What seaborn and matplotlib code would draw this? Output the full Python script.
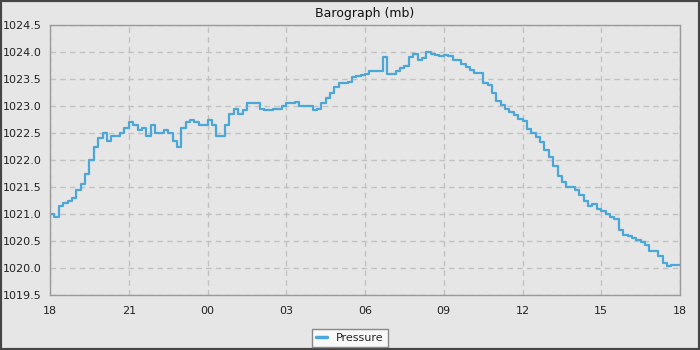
"""Barograph chart"""
import matplotlib

matplotlib.use("Agg")
import matplotlib.dates as mdates
import matplotlib.pyplot as plt
import pandas as pd
import seaborn as sns
from matplotlib.patches import Rectangle
from matplotlib.ticker import FormatStrFormatter, MultipleLocator

# readings every 10 minutes, 18:00 to 18:00 next day
START = "2024-01-01 18:00"
PRESSURE = [
    1021.00, 1020.95, 1021.15, 1021.20, 1021.25, 1021.30,
    1021.45, 1021.55, 1021.75, 1022.00, 1022.25, 1022.40,
    1022.50, 1022.35, 1022.45, 1022.45, 1022.50, 1022.60,
    1022.70, 1022.65, 1022.55, 1022.60, 1022.45, 1022.65,
    1022.50, 1022.50, 1022.55, 1022.50, 1022.35, 1022.25,
    1022.60, 1022.70, 1022.75, 1022.70, 1022.65, 1022.65,
    1022.75, 1022.65, 1022.45, 1022.45, 1022.65, 1022.85,
    1022.95, 1022.85, 1022.93, 1023.05, 1023.05, 1023.05,
    1022.95, 1022.93, 1022.93, 1022.95, 1022.95, 1023.00,
    1023.05, 1023.05, 1023.07, 1023.00, 1023.00, 1023.00,
    1022.93, 1022.95, 1023.05, 1023.15, 1023.25, 1023.35,
    1023.43, 1023.43, 1023.45, 1023.53, 1023.55, 1023.58,
    1023.60, 1023.65, 1023.65, 1023.65, 1023.90, 1023.60,
    1023.60, 1023.65, 1023.70, 1023.75, 1023.90, 1023.97,
    1023.85, 1023.88, 1024.00, 1023.97, 1023.95, 1023.93,
    1023.95, 1023.93, 1023.85, 1023.85, 1023.78, 1023.72,
    1023.66, 1023.61, 1023.61, 1023.43, 1023.38, 1023.25,
    1023.10, 1023.02, 1022.95, 1022.88, 1022.83, 1022.76,
    1022.72, 1022.57, 1022.50, 1022.43, 1022.33, 1022.18,
    1022.05, 1021.88, 1021.70, 1021.60, 1021.50, 1021.50,
    1021.45, 1021.35, 1021.25, 1021.15, 1021.18, 1021.10,
    1021.05, 1021.00, 1020.95, 1020.90, 1020.70, 1020.62,
    1020.60, 1020.55, 1020.52, 1020.48, 1020.42, 1020.31,
    1020.31, 1020.22, 1020.10, 1020.03, 1020.05, 1020.05,
    1020.05,
]

BG = "#e6e6e6"
LINE = "#4ba7d8"

sns.set_style("white", {"axes.facecolor": BG, "figure.facecolor": BG})
plt.rcParams["font.family"] = ["DejaVu Sans"]

df = pd.DataFrame(
    {
        "time": pd.date_range(START, periods=len(PRESSURE), freq="10min"),
        "Pressure": PRESSURE,
    }
)

fig = plt.figure(figsize=(7, 3.5), dpi=100, facecolor=BG)
ax = fig.add_axes([50 / 700, 55 / 350, 630 / 700, 270 / 350])
ax.set_facecolor(BG)

sns.lineplot(
    data=df, x="time", y="Pressure", ax=ax, color=LINE,
    linewidth=1.6, drawstyle="steps-post", label="Pressure", legend=False,
)

ax.set_xlim(df["time"].iloc[0], df["time"].iloc[-1])
ax.set_ylim(1019.5, 1024.5)
ax.xaxis.set_major_locator(mdates.HourLocator(byhour=range(0, 24, 3)))
ax.xaxis.set_minor_locator(mdates.HourLocator())
ax.xaxis.set_major_formatter(mdates.DateFormatter("%H"))
ax.yaxis.set_major_locator(MultipleLocator(0.5))
ax.yaxis.set_minor_locator(MultipleLocator(0.1))
ax.yaxis.set_major_formatter(FormatStrFormatter("%.1f"))
ax.set_xlabel("")
ax.set_ylabel("")

ax.grid(True, which="major", color="#c2c2c2", linestyle=(0, (4, 3)), linewidth=1)
for s in ax.spines.values():
    s.set_color("#9a9a9a")
    s.set_linewidth(1)
ax.tick_params(which="both", direction="out", colors="#222222", labelsize=8)
ax.tick_params(which="major", length=5, width=1, pad=3)
ax.tick_params(which="minor", length=3, width=1)
ax.tick_params(axis="y", pad=1)

ax.set_title("Barograph (mb)", fontsize=9, pad=6, color="#111111")

leg = fig.legend(
    *ax.get_legend_handles_labels(), loc="lower center",
    bbox_to_anchor=(0.5, 0.0), fontsize=8, frameon=True, fancybox=False,
    handlelength=1.0, borderpad=0.35, borderaxespad=0.3,
)
leg.get_frame().set_facecolor("#f8f8f8")
leg.get_frame().set_edgecolor("#888888")
leg.get_frame().set_alpha(1)
for h in leg.get_lines():
    h.set_linewidth(2.5)

fig.patches.append(
    Rectangle((0, 0), 1, 1, transform=fig.transFigure, fill=False,
              edgecolor="#454545", linewidth=3)
)

fig.savefig("out.png", dpi=100, facecolor=BG)
